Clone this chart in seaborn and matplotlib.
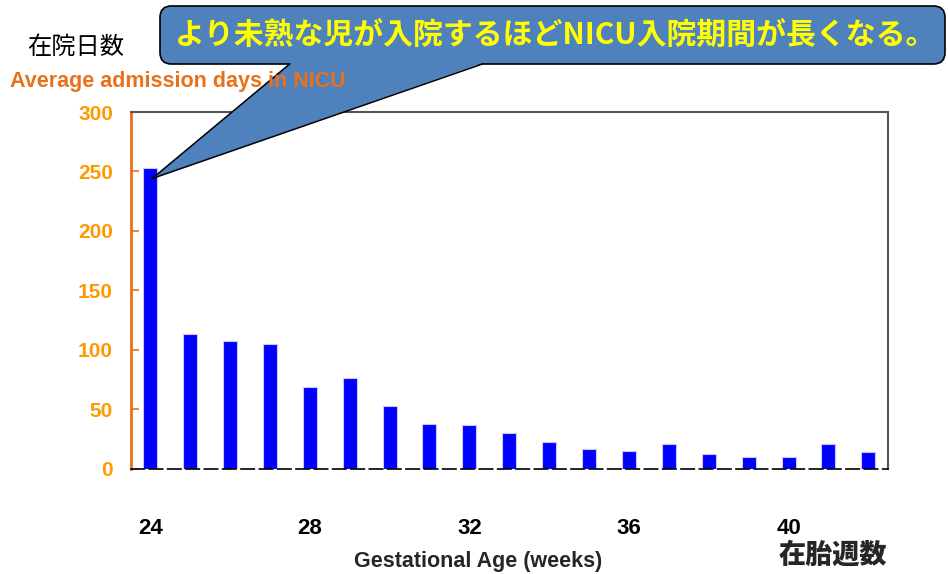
import numpy as np
import pandas as pd
import matplotlib
matplotlib.use('Agg')
import matplotlib.pyplot as plt
from matplotlib.patches import FancyBboxPatch, Polygon
from matplotlib.lines import Line2D
import seaborn as sns

# Average NICU admission days by gestational age (weeks)
weeks = [24, 25, 26, 27, 28, 29, 30, 31, 32, 33, 34, 35, 36, 37, 38, 39, 40, 41, 42]
days = [252.5, 113, 107, 105, 68.5, 76, 53, 37.5, 36.5, 30, 22.5, 16.5, 15, 20.5, 12, 10, 10, 20.5, 14]
label_weeks = [24, 28, 32, 36, 40]
y_ticks = [0, 50, 100, 150, 200, 250, 300]

callout_text = 'より未熟な児が入院するほどNICU入院期間が長くなる。'

sns.set_theme(style='white')
plt.rcParams['font.family'] = ['Noto Sans CJK JP', 'DejaVu Sans']

W, H = 948, 574
fig = plt.figure(figsize=(W / 100, H / 100), dpi=100)
ax = fig.add_axes([131 / W, 1 - 468.5 / H, (887.5 - 131) / W, (468.5 - 112) / H])

df = pd.DataFrame({'week': weeks, 'days': days})
sns.barplot(data=df, x='week', y='days', color='#0000FF', saturation=1,
            width=0.35, edgecolor='#c8c8ff', linewidth=0.8, ax=ax)

ax.set_xlim(-0.48, len(weeks) - 0.52)
ax.set_ylim(0, 300)
ax.set_xlabel('')
ax.set_ylabel('')

# x ticks: every 4 weeks, bold, far below the axis
pos = [weeks.index(w) for w in label_weeks]
ax.set_xticks(pos)
ax.set_xticklabels([str(w) for w in label_weeks], fontsize=16, fontweight='bold',
                   family=['Liberation Sans'], color='black')
ax.tick_params(axis='x', length=0, pad=36)

ax.set_yticks(y_ticks)
ax.set_yticklabels([str(v) for v in y_ticks], fontsize=15, fontweight='bold',
                   family=['Liberation Sans'], color='#FF9900')
ax.tick_params(axis='y', direction='in', length=6, width=1.2, color='#E8711C', pad=13, left=True)

# spines
ax.spines['left'].set_color('#E8711C')
ax.spines['left'].set_linewidth(2)
for s in ['top', 'right']:
    ax.spines[s].set_color('#555555')
    ax.spines[s].set_linewidth(1.5)
ax.spines['bottom'].set_color('black')
ax.spines['bottom'].set_linewidth(1.2)
ax.spines['bottom'].set_linestyle((0, (8, 3)))

# text labels
fig.text(27 / W, 1 - 47 / H, '在院日数', fontsize=17.5, color='black', va='center', ha='left')
fig.text(10 / W, 1 - 82 / H, 'Average admission days in NICU', fontsize=15.5, fontweight='bold',
         color='#E8711C', family=['Liberation Sans'], va='center', ha='left', zorder=10)
fig.text(478 / W, 1 - 562 / H, 'Gestational Age (weeks)', fontsize=15.5, fontweight='bold',
         family=['Liberation Sans'], va='center', ha='center')
fig.text(833 / W, 1 - 555 / H, '在胎週数', fontsize=19.5, fontweight='heavy',
         va='center', ha='center')

# callout box with wedge pointing to the 24-week bar
box_l, box_r, box_t, box_b = 160, 945, 6, 64
box = FancyBboxPatch((box_l / W, 1 - box_b / H), (box_r - box_l) / W, (box_b - box_t) / H,
                     boxstyle='round,pad=0,rounding_size=0.012', mutation_aspect=W / H,
                     transform=fig.transFigure, facecolor='#4F81BD', edgecolor='black',
                     linewidth=1.2, zorder=5)
fig.add_artist(box)

tip_disp = ax.transData.transform((0.05, 244))
tip = fig.transFigure.inverted().transform(tip_disp)
b1 = (290 / W, 1 - (box_b - 1) / H)
b2 = (483 / W, 1 - (box_b - 1) / H)
wedge = Polygon([b1, tip, b2], closed=True, transform=fig.transFigure,
                facecolor='#4F81BD', edgecolor='none', zorder=6)
fig.add_artist(wedge)
for b in (b1, b2):
    fig.add_artist(Line2D([b[0], tip[0]], [b[1] - 0.8 / H, tip[1]], transform=fig.transFigure,
                          color='black', linewidth=1.1, zorder=7))

fig.text(556 / W, 1 - 36 / H, callout_text, fontsize=21.5, fontweight='bold',
         color='#FFFF00', va='center', ha='center', zorder=8)

fig.savefig('out.png', dpi=100)
